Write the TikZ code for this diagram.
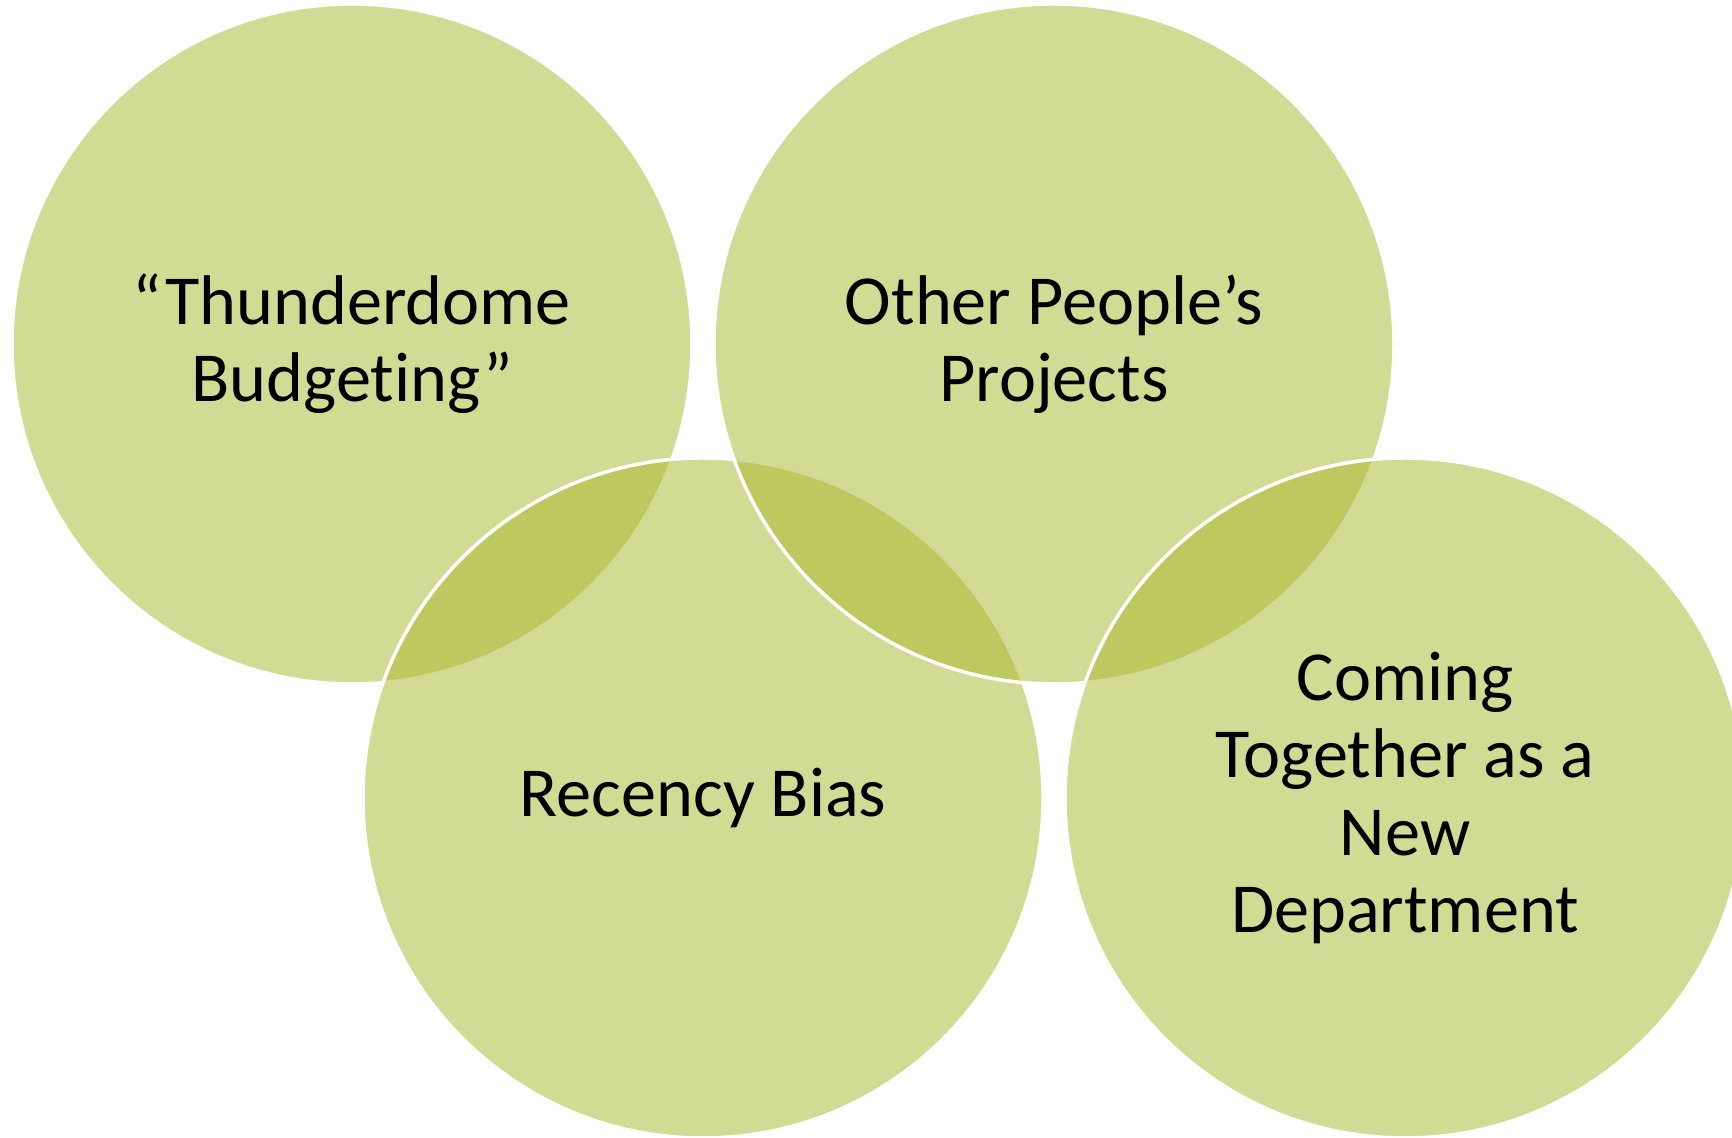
\documentclass[tikz,border=0pt]{standalone}
\usepackage{fontspec}
\setmainfont[Ligatures=NoCommon]{Carlito}
\usepackage{tikz}
\usetikzlibrary{positioning}
\definecolor{olive}{HTML}{A5B729}
\definecolor{textmain}{HTML}{000000}

\begin{document}
\begin{tikzpicture}[
  every node/.style={font=\fontsize{20pt}{22pt}\selectfont, text=textmain},
  venn/.style={circle, minimum size=6.80cm, inner sep=0pt, align=center,
    fill=olive, fill opacity=0.5, text opacity=1, draw=white, draw opacity=1, line width=0.035cm},
]

% Frame
\useasboundingbox (0, 0) rectangle (17.32, 11.38);

% Upper row and lower row, overlapping
\node[venn] at (3.52, 7.94) (thunder) {“Thunderdome\\Budgeting”};
\node[venn] at (7.03, 3.40) (recency) {Recency Bias};
\node[venn] at (10.54, 7.94) (others) {Other People’s\\Projects};
\node[venn] at (14.05, 3.40) (newdept) {Coming\\Together as a\\New\\Department};

\end{tikzpicture}
\end{document}
